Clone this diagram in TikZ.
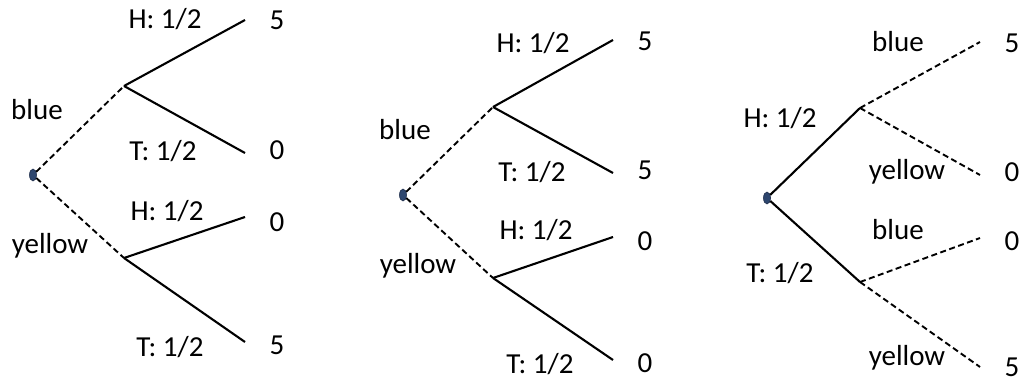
\documentclass[tikz,border=0pt]{standalone}
\usepackage{fontspec}
\setmainfont{Carlito}
\usetikzlibrary{shapes.geometric}
\begin{document}
\begin{tikzpicture}[x=1pt,y=-1pt,
  lbl/.style={font=\fontsize{29}{33}\selectfont, inner sep=0pt, anchor=center},
  solidedge/.style={line width=2.1pt, black},
  dashedge/.style={line width=1.9pt, black, dash pattern=on 6pt off 3.5pt},
  rootdot/.style={ellipse, fill={rgb,255:red,45;green,70;blue,110}, draw={rgb,255:red,30;green,45;blue,75}, line width=0.6pt, minimum width=7pt, minimum height=12pt, inner sep=0pt}]
\useasboundingbox (0,0) rectangle (1027,382);
% ---- Tree 1 ----
\node[rootdot] (r1) at (33,175) {};
\coordinate (a1) at (124,86);
\coordinate (b1) at (124,258);
\coordinate (l11) at (245,20);
\coordinate (l12) at (245,153);
\coordinate (l13) at (245,217);
\coordinate (l14) at (245,342);
\draw[dashedge] (r1) -- (a1);
\draw[dashedge] (r1) -- (b1);
\draw[solidedge] (a1) -- (l11);
\draw[solidedge] (a1) -- (l12);
\draw[solidedge] (b1) -- (l13);
\draw[solidedge] (b1) -- (l14);
\node[lbl] (v11) at (277,20) {5};
\node[lbl] (v12) at (277,150) {0};
\node[lbl] (v13) at (277,222) {0};
\node[lbl] (v14) at (277,345) {5};
\node[lbl] (h11) at (165,19) {H: 1/2};
\node[lbl] (t11) at (163,151) {T: 1/2};
\node[lbl] (h12) at (167,211) {H: 1/2};
\node[lbl] (t12) at (170,347) {T: 1/2};
\node[lbl] (bl1) at (37,110) {blue};
\node[lbl] (ye1) at (50,246) {yellow};
% ---- Tree 2 ----
\node[rootdot] (r2) at (403,195) {};
\coordinate (a2) at (493,107);
\coordinate (b2) at (493,278);
\coordinate (l21) at (613,40);
\coordinate (l22) at (613,173);
\coordinate (l23) at (613,237);
\coordinate (l24) at (613,360);
\draw[dashedge] (r2) -- (a2);
\draw[dashedge] (r2) -- (b2);
\draw[solidedge] (a2) -- (l21);
\draw[solidedge] (a2) -- (l22);
\draw[solidedge] (b2) -- (l23);
\draw[solidedge] (b2) -- (l24);
\node[lbl] (v21) at (645,41) {5};
\node[lbl] (v22) at (645,170) {5};
\node[lbl] (v23) at (645,241) {0};
\node[lbl] (v24) at (645,363) {0};
\node[lbl] (h21) at (533,43) {H: 1/2};
\node[lbl] (t21) at (532,172) {T: 1/2};
\node[lbl] (h22) at (536,230) {H: 1/2};
\node[lbl] (t22) at (540,364) {T: 1/2};
\node[lbl] (bl2) at (405,130) {blue};
\node[lbl] (ye2) at (418,266) {yellow};
% ---- Tree 3 ----
\node[rootdot] (r3) at (767,198) {};
\coordinate (a3) at (860,108);
\coordinate (b3) at (860,282);
\coordinate (l31) at (980,42);
\coordinate (l32) at (980,175);
\coordinate (l33) at (980,238);
\coordinate (l34) at (980,367);
\draw[solidedge] (r3) -- (a3);
\draw[solidedge] (r3) -- (b3);
\draw[dashedge] (a3) -- (l31);
\draw[dashedge] (a3) -- (l32);
\draw[dashedge] (b3) -- (l33);
\draw[dashedge] (b3) -- (l34);
\node[lbl] (v31) at (1012,43) {5};
\node[lbl] (v32) at (1012,172) {0};
\node[lbl] (v33) at (1012,241) {0};
\node[lbl] (v34) at (1012,367) {5};
\node[lbl] (bl31) at (898,42) {blue};
\node[lbl] (ye31) at (907,172) {yellow};
\node[lbl] (bl32) at (898,230) {blue};
\node[lbl] (ye32) at (907,358) {yellow};
\node[lbl] (h3) at (780,118) {H: 1/2};
\node[lbl] (t3) at (780,273) {T: 1/2};
\end{tikzpicture}
\end{document}
